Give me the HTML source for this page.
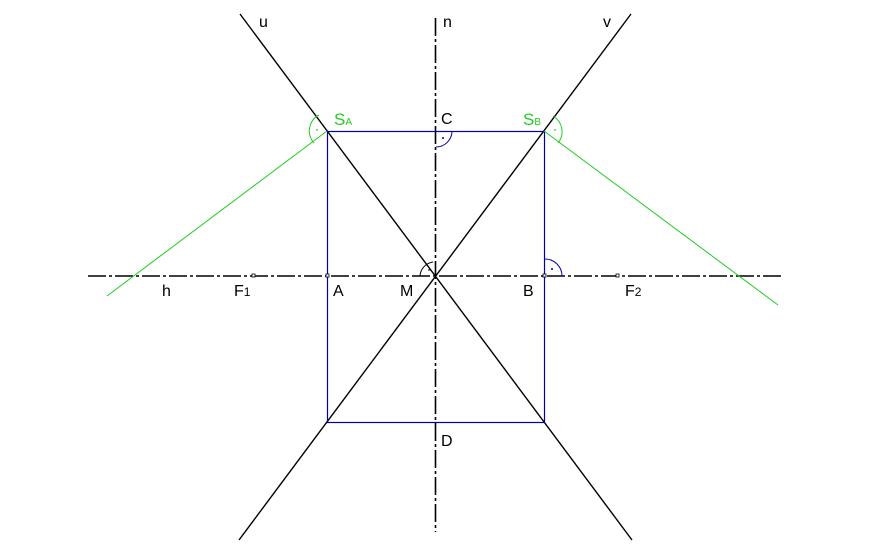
<!DOCTYPE html>
<html><head><meta charset="utf-8"><style>html,body{margin:0;padding:0;background:#fff}svg{display:block}text{font-family:"Liberation Sans",sans-serif}</style></head>
<body>
<svg width="896" height="548" viewBox="0 0 896 548" xmlns="http://www.w3.org/2000/svg">
<rect width="896" height="548" fill="#fff"/>
<line x1="88" y1="276" x2="783" y2="276" stroke="#000" stroke-width="1.6" stroke-dasharray="18,3,3,3"/>
<line x1="435.5" y1="18" x2="435.5" y2="532" stroke="#000" stroke-width="1.6" stroke-dasharray="18,3,3,3"/>
<line x1="240" y1="14" x2="632" y2="540" stroke="#000" stroke-width="1.4"/>
<line x1="631" y1="14" x2="239" y2="540" stroke="#000" stroke-width="1.4"/>
<rect x="327.5" y="131.5" width="217" height="291" fill="none" stroke="#0000aa" stroke-width="1.2"/>
<line x1="327" y1="131" x2="107" y2="296" stroke="#22cc22" stroke-width="1"/>
<line x1="544" y1="131" x2="778" y2="305" stroke="#22cc22" stroke-width="1"/>
<path d="M319,115 A18,18 0 0 0 314,143" fill="none" stroke="#22cc22" stroke-width="1"/>
<circle cx="317" cy="130" r="0.9" fill="#22cc22"/>
<path d="M553,116 A18,18 0 0 1 558,143" fill="none" stroke="#22cc22" stroke-width="1"/>
<circle cx="555" cy="130" r="0.9" fill="#22cc22"/>
<path d="M452,131 A16,16 0 0 1 436,147" fill="none" stroke="#0000aa" stroke-width="1"/>
<circle cx="443" cy="138" r="1" fill="#0000aa"/>
<path d="M545,259 A17,17 0 0 1 562,276" fill="none" stroke="#0000aa" stroke-width="1"/>
<circle cx="552" cy="269" r="1" fill="#0000aa"/>
<path d="M420,276 A15,15 0 0 1 433,262" fill="none" stroke="#000" stroke-width="1"/>
<circle cx="429" cy="270" r="0.8" fill="#000"/>
<rect x="252" y="274" width="3" height="3" fill="#fff" stroke="#000" stroke-width="0.8"/>
<rect x="326" y="274" width="3" height="3" fill="#fff" stroke="#000" stroke-width="0.8"/>
<rect x="543" y="274" width="3" height="3" fill="#fff" stroke="#000" stroke-width="0.8"/>
<rect x="616" y="274" width="3" height="3" fill="#fff" stroke="#000" stroke-width="0.8"/>
<g font-size="16" fill="#000">
<text x="259" y="27">u</text>
<text x="443" y="27">n</text>
<text x="603" y="27">v</text>
<text x="441" y="124">C</text>
<text x="162" y="296">h</text>
<text x="234" y="296">F<tspan font-size="12">1</tspan></text>
<text x="333" y="296">A</text>
<text x="400" y="296">M</text>
<text x="523" y="296">B</text>
<text x="625" y="296">F<tspan font-size="12">2</tspan></text>
<text x="441" y="446">D</text>
</g>
<g font-size="17" fill="#22cc22">
<text x="334" y="125">S<tspan font-size="10">A</tspan></text>
<text x="523" y="125">S<tspan font-size="10">B</tspan></text>
</g>
</svg>
</body></html>
